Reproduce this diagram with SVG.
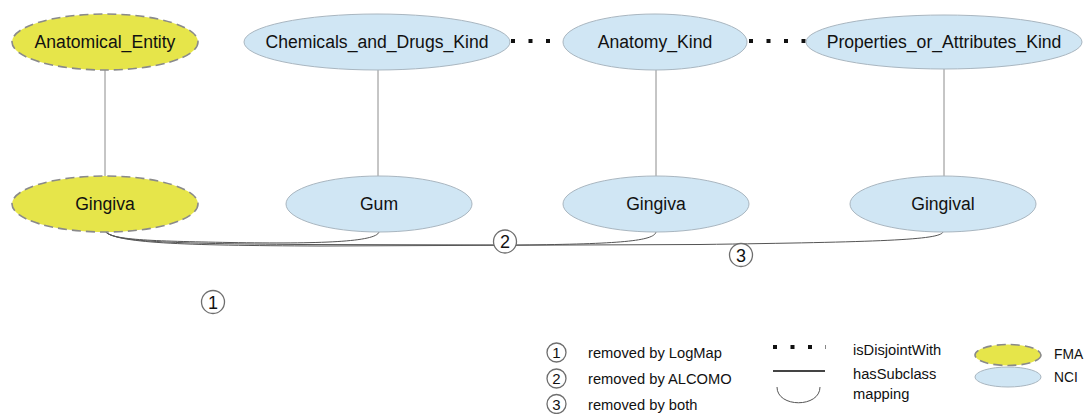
<svg xmlns="http://www.w3.org/2000/svg" width="1084" height="414" viewBox="0 0 1084 414">
  <style>
    .fma { fill: #e6e54a; stroke: #8a8a8a; stroke-width: 1.6; stroke-dasharray: 9 5; }
    .nci { fill: #d0e6f4; stroke: #a9b6c0; stroke-width: 1; }
    .lbl { font-family: "Liberation Sans", Arial, sans-serif; font-size: 17.6px; fill: #111; text-anchor: middle; }
    .leg { font-family: "Liberation Sans", Arial, sans-serif; font-size: 14.7px; fill: #111; }
    .key { font-family: "Liberation Sans", Arial, sans-serif; font-size: 13.8px; fill: #111; }
    .num { font-family: "Liberation Sans", Arial, sans-serif; fill: #111; text-anchor: middle; }
    .big { font-size: 18px; }
    .small { font-size: 15px; }
    .sub { stroke: #8c8c8c; stroke-width: 1; fill: none; }
    .disj { stroke: #111; stroke-width: 4; stroke-dasharray: 4 13.5; fill: none; }
    .map { stroke: #555; stroke-width: 1; fill: none; }
    .tag { fill: #fff; stroke: #6e6e6e; stroke-width: 1.3; }
  </style>

  <!-- connectors: subclass links, disjointness, mappings -->
  <g id="connectors">
    <line class="sub" x1="105" y1="70" x2="105" y2="176"/>
    <line class="sub" x1="378" y1="70" x2="378" y2="176"/>
    <line class="sub" x1="656" y1="70" x2="656" y2="176"/>
    <line class="sub" x1="944" y1="69" x2="944" y2="176"/>
    <line class="disj" x1="511" y1="41" x2="562" y2="41"/>
    <line class="disj" x1="749" y1="41" x2="806" y2="41"/>
    <path class="map" d="M105,231 C110,240 150,241 230,242.5 C320,244 376,242 379,232"/>
    <path class="map" d="M105,231 C112,242 170,243.5 300,244.5 L520,245 C620,244 654,241 656,232"/>
    <path class="map" d="M105,231 C114,243 180,245.5 320,246 L700,244.5 C880,242 940,240 943,232"/>
  </g>

  <g id="n-anatomical-entity">
    <ellipse class="fma" cx="105" cy="42" rx="93" ry="28"/>
    <text class="lbl" x="105" y="48">Anatomical_Entity</text>
  </g>
  <g id="n-chemicals">
    <ellipse class="nci" cx="377" cy="42" rx="133" ry="28"/>
    <text class="lbl" x="377" y="48">Chemicals_and_Drugs_Kind</text>
  </g>
  <g id="n-anatomy-kind">
    <ellipse class="nci" cx="655" cy="42" rx="92" ry="28"/>
    <text class="lbl" x="655" y="48">Anatomy_Kind</text>
  </g>
  <g id="n-properties">
    <ellipse class="nci" cx="944" cy="42" rx="138" ry="27"/>
    <text class="lbl" x="944" y="48">Properties_or_Attributes_Kind</text>
  </g>

  <g id="n-gingiva-fma">
    <ellipse class="fma" cx="105" cy="204" rx="93" ry="28"/>
    <text class="lbl" x="105" y="210">Gingiva</text>
  </g>
  <g id="n-gum">
    <ellipse class="nci" cx="379" cy="204" rx="93" ry="28"/>
    <text class="lbl" x="379" y="210">Gum</text>
  </g>
  <g id="n-gingiva-nci">
    <ellipse class="nci" cx="656" cy="204" rx="93" ry="28"/>
    <text class="lbl" x="656" y="210">Gingiva</text>
  </g>
  <g id="n-gingival">
    <ellipse class="nci" cx="943" cy="204" rx="93" ry="28"/>
    <text class="lbl" x="943" y="210">Gingival</text>
  </g>

  <!-- numbered removal tags on the mappings -->
  <g id="tag-1">
    <circle class="tag" cx="213" cy="302" r="11.5"/>
    <text class="num big" x="213" y="308.5">1</text>
  </g>
  <g id="tag-2">
    <circle class="tag" cx="505" cy="241.5" r="11.5"/>
    <text class="num big" x="505" y="248">2</text>
  </g>
  <g id="tag-3">
    <circle class="tag" cx="741" cy="255" r="11.5"/>
    <text class="num big" x="741" y="261.5">3</text>
  </g>

  <!-- legend -->
  <g id="legend">
    <circle class="tag" cx="556.5" cy="352.5" r="9.5"/>
    <text class="num small" x="556.5" y="358">1</text>
    <text class="leg" x="588" y="358">removed by LogMap</text>
    <circle class="tag" cx="556.5" cy="378.5" r="9.5"/>
    <text class="num small" x="556.5" y="384">2</text>
    <text class="leg" x="588" y="384">removed by ALCOMO</text>
    <circle class="tag" cx="556.5" cy="404" r="9.5"/>
    <text class="num small" x="556.5" y="409.5">3</text>
    <text class="leg" x="588" y="409.5">removed by both</text>

    <line class="disj" x1="773" y1="347" x2="826" y2="347" stroke-dasharray="4 13"/>
    <line x1="773" y1="371" x2="825" y2="371" stroke="#444" stroke-width="2"/>
    <path class="map" d="M777,387 C777,408 820,408 820,387" stroke="#666"/>
    <text class="leg" x="853" y="354.5">isDisjointWith</text>
    <text class="leg" x="853" y="379">hasSubclass</text>
    <text class="leg" x="853" y="398.5">mapping</text>

    <ellipse class="fma" cx="1008" cy="355" rx="33" ry="10.5"/>
    <ellipse class="nci" cx="1008" cy="377" rx="33" ry="10"/>
    <text class="key" x="1054" y="359">FMA</text>
    <text class="key" x="1054" y="382">NCI</text>
  </g>
</svg>
